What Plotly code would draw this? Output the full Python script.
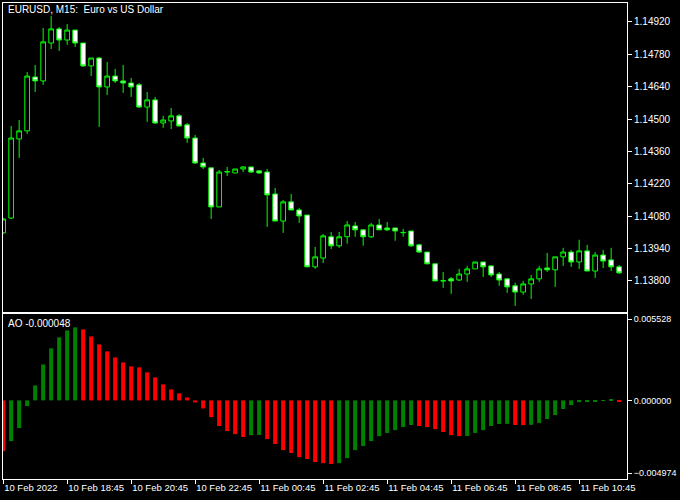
import plotly.graph_objects as go

# ---------------- data ----------------
bar_index = list(range(78))

open_ = [1.14008, 1.14072, 1.14414, 1.14449, 1.14682, 1.14665, 1.14829, 1.14890, 1.14842, 1.14885,
         1.14829, 1.14730, 1.14764, 1.14639, 1.14686, 1.14665, 1.14656, 1.14648, 1.14552, 1.14583,
         1.14483, 1.14492, 1.14514, 1.14475, 1.14418, 1.14310, 1.14289, 1.14120, 1.14271, 1.14267,
         1.14284, 1.14293, 1.14276, 1.14271, 1.14176, 1.14059, 1.14142, 1.14107, 1.14085, 1.13861,
         1.13899, 1.13991, 1.13952, 1.13991, 1.14038, 1.14021, 1.13991, 1.14042, 1.14029, 1.14029,
         1.14010, 1.14016, 1.13956, 1.13925, 1.13874, 1.13800, 1.13809, 1.13804, 1.13830, 1.13852,
         1.13882, 1.13865, 1.13830, 1.13809, 1.13779, 1.13752, 1.13787, 1.13809, 1.13856, 1.13848,
         1.13904, 1.13925, 1.13882, 1.13930, 1.13843, 1.13912, 1.13891, 1.13861]
high = [1.14072, 1.14470, 1.14496, 1.14704, 1.14734, 1.14894, 1.14946, 1.14898, 1.14911, 1.14885,
        1.14829, 1.14764, 1.14769, 1.14747, 1.14717, 1.14734, 1.14678, 1.14656, 1.14617, 1.14596,
        1.14514, 1.14548, 1.14522, 1.14483, 1.14431, 1.14332, 1.14289, 1.14280, 1.14293, 1.14284,
        1.14297, 1.14293, 1.14276, 1.14284, 1.14202, 1.14150, 1.14176, 1.14116, 1.14085, 1.13947,
        1.14003, 1.14012, 1.14012, 1.14059, 1.14055, 1.14025, 1.14051, 1.14068, 1.14055, 1.14029,
        1.14025, 1.14016, 1.13961, 1.13925, 1.13874, 1.13839, 1.13817, 1.13852, 1.13865, 1.13882,
        1.13882, 1.13869, 1.13839, 1.13813, 1.13792, 1.13800, 1.13826, 1.13865, 1.13921, 1.13904,
        1.13943, 1.13934, 1.13978, 1.13956, 1.13925, 1.13934, 1.13943, 1.13869]
low = [1.14003, 1.14068, 1.14332, 1.14436, 1.14617, 1.14648, 1.14803, 1.14795, 1.14821, 1.14812,
       1.14725, 1.14686, 1.14466, 1.14604, 1.14656, 1.14613, 1.14596, 1.14548, 1.14488, 1.14479,
       1.14462, 1.14457, 1.14470, 1.14397, 1.14306, 1.14284, 1.14068, 1.14120, 1.14254, 1.14267,
       1.14271, 1.14267, 1.14263, 1.14034, 1.14059, 1.14008, 1.14107, 1.14051, 1.13861, 1.13852,
       1.13878, 1.13938, 1.13943, 1.13961, 1.13991, 1.13952, 1.13986, 1.14021, 1.14016, 1.13974,
       1.13991, 1.13947, 1.13921, 1.13874, 1.13800, 1.13770, 1.13744, 1.13800, 1.13796, 1.13852,
       1.13817, 1.13817, 1.13779, 1.13748, 1.13692, 1.13740, 1.13722, 1.13796, 1.13839, 1.13774,
       1.13865, 1.13861, 1.13852, 1.13843, 1.13813, 1.13856, 1.13843, 1.13830]
close = [1.14068, 1.14418, 1.14449, 1.14686, 1.14665, 1.14834, 1.14890, 1.14842, 1.14885, 1.14829,
         1.14730, 1.14764, 1.14639, 1.14686, 1.14665, 1.14656, 1.14639, 1.14552, 1.14583, 1.14483,
         1.14496, 1.14514, 1.14470, 1.14418, 1.14310, 1.14293, 1.14120, 1.14271, 1.14273, 1.14284,
         1.14293, 1.14271, 1.14267, 1.14172, 1.14059, 1.14142, 1.14107, 1.14081, 1.13861, 1.13904,
         1.13995, 1.13952, 1.13991, 1.14042, 1.14021, 1.13991, 1.14042, 1.14021, 1.14021, 1.14016,
         1.14009, 1.13952, 1.13925, 1.13874, 1.13800, 1.13801, 1.13800, 1.13830, 1.13852, 1.13882,
         1.13861, 1.13826, 1.13804, 1.13774, 1.13752, 1.13787, 1.13809, 1.13852, 1.13848, 1.13904,
         1.13925, 1.13882, 1.13930, 1.13843, 1.13912, 1.13886, 1.13861, 1.13835]

ao = [-0.00346, -0.00278, -0.00189, -0.00039, 0.00102, 0.00245, 0.00355, 0.00430, 0.00477, 0.00498,
      0.00484, 0.00436, 0.00382, 0.00334, 0.00293, 0.00259, 0.00232, 0.00225, 0.00191, 0.00157,
      0.00109, 0.00075, 0.00048, 0.00020, -0.00014, -0.00055, -0.00114, -0.00175, -0.00209, -0.00230,
      -0.00250, -0.00237, -0.00236, -0.00264, -0.00298, -0.00339, -0.00359, -0.00387, -0.00400, -0.00421,
      -0.00428, -0.00434, -0.00428, -0.00394, -0.00339, -0.00312, -0.00278, -0.00244, -0.00223, -0.00203,
      -0.00182, -0.00168, -0.00175, -0.00182, -0.00196, -0.00216, -0.00237, -0.00244, -0.00243, -0.00223,
      -0.00203, -0.00175, -0.00161, -0.00160, -0.00168, -0.00169, -0.00167, -0.00154, -0.00127, -0.00100,
      -0.00059, -0.00032, -0.00012, -0.00008, -0.00005, -0.00004, 0.00003, -0.000048]

time_tick_index = [0, 8, 16, 24, 32, 40, 48, 56, 64, 72]
time_tick_labels = ["10 Feb 2022", "10 Feb 18:45", "10 Feb 20:45", "10 Feb 22:45", "11 Feb 00:45",
                    "11 Feb 02:45", "11 Feb 04:45", "11 Feb 06:45", "11 Feb 08:45", "11 Feb 10:45"]
price_ticks = [1.13800, 1.13940, 1.14080, 1.14220, 1.14360, 1.14500, 1.14640, 1.14780, 1.14920]
ao_ticks = [-0.004974, 0.0, 0.005528]

title_text = "EURUSD, M15:\u00a0 Euro vs US Dollar"
ao_label = "AO -0.000048"

# ---------------- styles ----------------
FONT = "Liberation Sans, Arial, sans-serif"
WHITE = "#ffffff"
LIME = "#00ff00"
AO_UP = "#008000"
AO_DN = "#ff0000"

ao_colors = [AO_DN] + [AO_UP if ao[i] > ao[i - 1] else AO_DN for i in range(1, len(ao))]

fig = go.Figure()
fig.add_trace(go.Candlestick(
    x=bar_index, open=open_, high=high, low=low, close=close,
    increasing=dict(line=dict(color=LIME, width=1), fillcolor="#000000"),
    decreasing=dict(line=dict(color=LIME, width=1), fillcolor="#ffffff"),
    whiskerwidth=0, xaxis="x", yaxis="y", hoverinfo="skip", showlegend=False,
))
fig.add_trace(go.Bar(
    x=bar_index, y=ao, marker=dict(color=ao_colors, line=dict(width=0)),
    width=0.5, xaxis="x2", yaxis="y2", hoverinfo="skip", showlegend=False,
))

xr = [-0.02, 77.98]
axis_common = dict(showline=True, mirror=True, linecolor=WHITE, linewidth=1,
                   showgrid=False, zeroline=False, automargin=False)

fig.update_layout(
    width=680, height=500,
    paper_bgcolor="#000000", plot_bgcolor="#000000",
    margin=dict(l=3, r=53, t=3, b=21, pad=0),
    font=dict(family=FONT, size=10, color=WHITE),
    boxgap=0.41, boxgroupgap=0,
    xaxis=dict(domain=[0, 1], anchor="y", range=xr, showticklabels=False, ticks="",
               rangeslider=dict(visible=False), **axis_common),
    yaxis=dict(domain=[0.351, 1], anchor="x", side="right", range=[1.13666, 1.15002],
               tickvals=price_ticks, tickformat=".5f", ticks="outside", ticklen=4,
               tickcolor=WHITE, tickfont=dict(family=FONT, size=10, color=WHITE), **axis_common),
    xaxis2=dict(domain=[0, 1], anchor="y2", range=xr, tickvals=time_tick_index,
                ticktext=time_tick_labels, ticks="outside", ticklen=4, tickcolor=WHITE,
                ticklabelposition="outside right", tickangle=0,
                tickfont=dict(family=FONT, size=9.5, color=WHITE), **axis_common),
    yaxis2=dict(domain=[0, 0.3466], anchor="x2", side="right", range=[-0.005363, 0.005889],
                tickvals=ao_ticks, tickformat=".6f", ticks="outside", ticklen=4,
                tickcolor=WHITE, tickfont=dict(family=FONT, size=9, color=WHITE), **axis_common),
    annotations=[
        dict(text=title_text, xref="paper", yref="paper", x=0.005, y=0.987,
             xanchor="left", yanchor="middle", showarrow=False,
             font=dict(family=FONT, size=10, color=WHITE)),
        dict(text=ao_label, xref="paper", yref="paper", x=0.005, y=0.327,
             xanchor="left", yanchor="middle", showarrow=False,
             font=dict(family=FONT, size=10, color=WHITE)),
    ],
)

fig.write_html("out.html",
               config={"displayModeBar": False},
               post_script="document.body.style.margin='0';document.body.style.background='#000';")
